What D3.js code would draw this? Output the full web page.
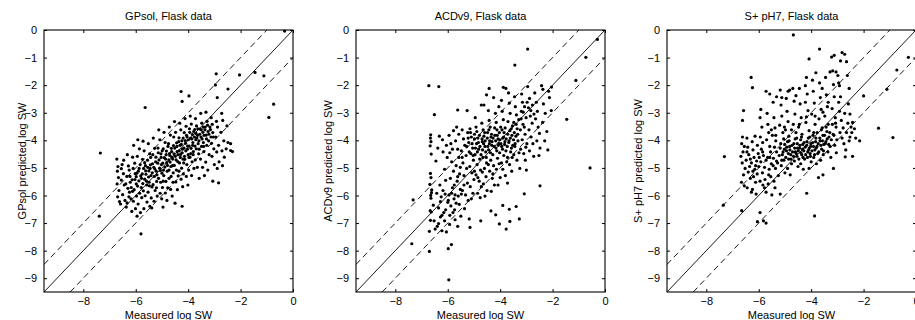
<!DOCTYPE html>
<html>
<head>
<meta charset="utf-8">
<script src="https://cdn.jsdelivr.net/npm/d3@7"></script>
<style>
  body { margin: 0; background: #fff; }
  text { font-family: "Liberation Sans", Arial, Helvetica, sans-serif; fill: #000; }
</style>
</head>
<body>
<svg id="chart" width="915" height="320"></svg>
<script>
const titles = ["GPsol, Flask data", "ACDv9, Flask data", "S+ pH7, Flask data"];
const yLabels = ["GPsol predicted log SW", "ACDv9 predicted log SW", "S+ pH7 predicted log SW"];
const xLabel = "Measured log SW";
const xTicks = [-8, -6, -4, -2, 0];
const yTicks = [0, -1, -2, -3, -4, -5, -6, -7, -8, -9];
const axisDomain = [-9.5, 0];
// y = x, y = x + 1, y = x - 1
const refOffsets = [0, 1, -1];

// [measured, predicted]
const gpsolPoints = [
  [-7.39,-6.75],[-7.35,-4.46],[-5.64,-2.81],[-5.80,-7.39],[-4.23,-6.39],[-5.39,-6.45],[-4.27,-2.23],[-3.97,-2.39],
  [-4.23,-2.59],[-2.93,-1.59],[-2.04,-1.63],[-1.45,-1.54],[-1.11,-1.66],[-0.32,-0.04],[-0.74,-2.69],[-0.92,-3.17],
  [-2.48,-2.14],[-2.96,-1.99],[-2.89,-2.45],[-3.06,-5.48],[-2.84,-5.54],[-2.38,-4.37],
  [-6.72,-4.68],[-6.68,-4.95],[-6.70,-5.12],[-6.66,-5.35],[-6.71,-5.58],[-6.64,-5.82],[-6.69,-6.05],[-6.62,-6.22],[-6.58,-6.31],
  [-6.52,-4.88],[-6.47,-5.21],[-6.55,-5.44],[-6.44,-5.62],[-6.50,-5.97],[-6.41,-6.18],[-6.36,-6.42],[-6.46,-4.72],[-6.55,-5.03],
  [-6.32,-4.52],[-6.28,-4.93],[-6.25,-5.08],[-6.34,-5.31],[-6.21,-5.52],[-6.30,-5.74],[-6.24,-5.88],[-6.18,-6.12],[-6.33,-6.27],[-6.15,-6.58],[-6.26,-6.05],
  [-6.08,-4.18],[-6.12,-4.61],[-6.04,-4.83],[-6.10,-5.02],[-6.02,-5.21],[-6.14,-5.43],[-5.98,-5.58],[-6.06,-5.79],[-5.97,-6.02],[-6.09,-6.21],[-6.01,-6.48],[-5.95,-6.75],
  [-5.92,-3.98],[-5.86,-4.31],[-5.94,-4.58],[-5.83,-4.88],[-5.90,-5.12],[-5.81,-5.29],[-5.88,-5.47],[-5.79,-5.71],[-5.85,-5.92],[-5.77,-6.08],[-5.91,-6.31],[-5.82,-6.62],
  [-5.72,-4.03],[-5.68,-4.38],[-5.74,-4.69],[-5.63,-4.92],[-5.70,-5.02],[-5.61,-5.23],[-5.66,-5.41],[-5.58,-5.62],[-5.71,-5.83],[-5.64,-6.01],[-5.57,-6.24],[-5.69,-6.48],
  [-5.52,-4.12],[-5.47,-4.49],[-5.55,-4.72],[-5.44,-4.89],[-5.50,-5.11],[-5.42,-5.28],[-5.49,-5.52],[-5.38,-5.69],[-5.53,-5.88],[-5.41,-6.09],[-5.46,-6.39],
  [-5.33,-3.92],[-5.28,-4.29],[-5.35,-4.52],[-5.24,-4.78],[-5.31,-4.98],[-5.22,-5.12],[-5.29,-5.31],[-5.20,-5.49],[-5.34,-5.61],[-5.26,-5.82],[-5.18,-6.02],[-5.30,-6.21],
  [-5.12,-3.62],[-5.08,-3.98],[-5.15,-4.28],[-5.04,-4.49],[-5.11,-4.71],[-5.02,-4.88],[-5.09,-5.01],[-5.00,-5.19],[-5.13,-5.38],[-5.05,-5.52],[-4.98,-5.71],[-5.07,-5.92],[-5.01,-6.12],[-4.96,-6.42],
  [-4.92,-3.71],[-4.88,-4.08],[-4.95,-4.31],[-4.84,-4.52],[-4.91,-4.63],[-4.82,-4.81],[-4.89,-4.97],[-4.80,-5.12],[-4.93,-5.28],[-4.85,-5.49],[-4.78,-5.72],[-4.87,-5.91],[-4.81,-6.18],
  [-4.72,-3.52],[-4.68,-3.81],[-4.75,-4.12],[-4.64,-4.29],[-4.71,-4.48],[-4.62,-4.61],[-4.69,-4.79],[-4.60,-4.92],[-4.73,-5.08],[-4.65,-5.31],[-4.58,-5.52],[-4.67,-5.78],[-4.61,-6.02],
  [-4.52,-3.32],[-4.48,-3.71],[-4.55,-3.88],[-4.44,-4.09],[-4.51,-4.28],[-4.42,-4.41],[-4.49,-4.58],[-4.40,-4.77],[-4.53,-4.91],[-4.45,-5.08],[-4.38,-5.29],[-4.47,-5.51],[-4.41,-5.79],[-4.50,-6.28],
  [-4.32,-3.38],[-4.28,-3.62],[-4.35,-3.91],[-4.24,-4.02],[-4.31,-4.18],[-4.22,-4.32],[-4.29,-4.51],[-4.20,-4.68],[-4.33,-4.82],[-4.25,-5.01],[-4.18,-5.22],[-4.27,-5.41],[-4.21,-5.68],
  [-4.12,-3.21],[-4.08,-3.49],[-4.15,-3.72],[-4.04,-3.88],[-4.11,-4.01],[-4.02,-4.21],[-4.09,-4.38],[-4.00,-4.52],[-4.13,-4.69],[-4.05,-4.88],[-3.98,-5.08],[-4.07,-5.31],[-4.01,-5.62],
  [-3.92,-3.12],[-3.88,-3.41],[-3.95,-3.58],[-3.84,-3.79],[-3.91,-3.92],[-3.82,-4.08],[-3.89,-4.29],[-3.80,-4.41],[-3.93,-4.61],[-3.85,-4.78],[-3.78,-5.02],[-3.87,-5.28],
  [-3.72,-3.21],[-3.68,-3.48],[-3.75,-3.61],[-3.64,-3.82],[-3.71,-3.98],[-3.62,-4.12],[-3.69,-4.31],[-3.60,-4.49],[-3.73,-4.71],[-3.65,-4.98],[-3.58,-5.38],
  [-3.52,-3.02],[-3.48,-3.38],[-3.55,-3.59],[-3.44,-3.71],[-3.51,-3.88],[-3.42,-4.08],[-3.49,-4.22],[-3.40,-4.41],[-3.53,-4.68],[-3.45,-4.98],[-3.38,-5.28],
  [-3.32,-2.98],[-3.28,-3.31],[-3.35,-3.52],[-3.24,-3.68],[-3.31,-3.81],[-3.22,-4.02],[-3.29,-4.18],[-3.20,-4.52],[-3.33,-4.79],[-3.25,-5.08],
  [-3.12,-3.18],[-3.08,-3.42],[-3.15,-3.61],[-3.04,-3.88],[-3.11,-4.11],[-3.02,-4.31],[-3.09,-4.58],[-3.00,-4.88],
  [-2.92,-3.31],[-2.88,-3.52],[-2.95,-3.88],[-2.84,-4.18],[-2.91,-4.42],[-2.82,-4.78],[-2.89,-5.02],
  [-2.72,-3.02],[-2.68,-3.28],[-2.75,-3.71],[-2.64,-4.02],[-2.71,-4.38],[-2.62,-4.61],[-2.69,-4.92],
  [-2.52,-3.48],[-2.48,-4.08],[-2.55,-4.31],[-2.38,-4.12],[-2.31,-4.41],
  [-6.38,-5.58],[-6.22,-5.31],[-6.17,-5.71],[-6.03,-5.42],[-5.96,-5.19],[-5.93,-5.66],[-5.87,-5.02],[-5.78,-5.38],[-5.73,-5.57],
  [-5.66,-4.81],[-5.62,-5.11],[-5.59,-5.48],[-5.54,-4.98],[-5.51,-5.33],[-5.45,-5.02],[-5.43,-4.62],[-5.37,-5.18],[-5.36,-4.85],
  [-5.27,-5.04],[-5.23,-4.61],[-5.19,-5.25],[-5.16,-4.83],[-5.14,-4.45],[-5.06,-5.09],[-5.03,-4.62],[-4.99,-4.38],[-4.97,-4.83],
  [-4.94,-5.08],[-4.86,-4.68],[-4.83,-4.39],[-4.79,-4.91],[-4.77,-4.22],[-4.74,-4.71],[-4.70,-4.55],[-4.66,-4.95],[-4.63,-4.41],
  [-4.59,-4.68],[-4.56,-4.19],[-4.54,-4.49],[-4.46,-4.71],[-4.43,-4.22],[-4.39,-4.52],[-4.36,-4.05],[-4.34,-4.38],[-4.30,-4.62],
  [-4.26,-4.15],[-4.23,-4.45],[-4.19,-3.92],[-4.16,-4.28],[-4.14,-4.58],[-4.10,-4.11],[-4.06,-3.82],[-4.03,-4.32],[-3.99,-3.98],
  [-3.96,-4.21],[-3.94,-3.71],[-3.90,-4.48],[-3.86,-3.95],[-3.83,-4.18],[-3.79,-3.68],[-3.76,-3.88],[-3.74,-4.21],[-3.70,-3.75],
  [-3.67,-3.92],[-3.63,-3.58],[-3.59,-4.02],[-3.56,-3.78],[-3.50,-3.62],[-3.47,-3.95],[-3.43,-3.52],[-3.39,-3.82],[-3.36,-3.62],
  [-3.30,-3.95],[-3.26,-3.45],[-3.21,-3.78],[-3.17,-3.52],[-3.13,-3.88],[-3.06,-3.72],[-5.98,-5.32],[-6.12,-5.85],[-5.75,-5.22],
  [-5.48,-5.65],[-5.21,-5.72],[-4.95,-5.48],[-4.73,-5.38],[-4.57,-5.18],[-4.35,-5.12],[-4.17,-4.82],[-3.97,-4.62],[-3.81,-4.52],
  [-3.58,-4.32],[-3.41,-4.22]
];

const acdv9Points = [
  [-0.29,-0.34],[-0.73,-0.99],[-2.95,-0.69],[-3.44,-1.27],[-1.11,-1.83],[-2.04,-2.07],[-6.72,-2.02],[-6.34,-2.05],
  [-6.51,-3.07],[-0.57,-5.00],[-1.46,-3.24],[-2.48,-5.65],[-3.08,-5.94],[-7.37,-7.75],[-7.32,-6.16],[-6.70,-8.03],
  [-5.98,-7.93],[-5.86,-7.78],[-5.96,-9.06],[-4.35,-6.56],[-4.17,-6.70],[-3.90,-6.36],[-3.65,-6.50],[-3.39,-6.40],
  [-3.27,-6.85],[-4.03,-7.03],[-3.77,-7.22],[-3.63,-6.94],[-4.74,-6.92],[-5.15,-7.16],[-5.62,-2.90],[-2.37,-2.15],
  [-6.65,-3.80],[-6.66,-3.92],[-6.64,-4.05],[-6.67,-4.20],[-6.63,-4.50],[-6.66,-5.20],[-6.64,-5.35],[-6.68,-5.60],
  [-6.62,-5.90],[-6.65,-6.00],[-6.67,-6.55],[-6.63,-6.60],[-6.66,-6.90],[-6.70,-7.30],[-6.61,-5.80],[-6.64,-6.10],
  [-6.45,-4.75],[-6.38,-4.28],[-6.30,-5.62],[-6.42,-5.92],[-6.25,-6.05],[-6.35,-6.45],[-6.28,-6.78],[-6.40,-7.12],[-6.22,-7.28],
  [-6.15,-6.62],[-6.10,-5.95],[-6.05,-4.18],[-6.18,-4.42],[-6.02,-4.62],[-6.12,-5.05],[-6.08,-5.45],[-6.00,-6.25],[-6.12,-6.92],
  [-6.05,-7.32],[-6.20,-3.98],[-6.32,-3.85],
  [-5.95,-3.82],[-5.88,-4.12],[-5.92,-4.45],[-5.85,-4.78],[-5.78,-5.12],[-5.90,-5.38],[-5.82,-5.72],[-5.95,-5.98],[-5.76,-6.12],
  [-5.88,-6.38],[-5.80,-6.62],[-5.72,-6.88],[-5.93,-7.05],[-5.66,-3.52],[-5.70,-4.02],[-5.62,-4.32],[-5.58,-4.62],[-5.68,-4.92],
  [-5.55,-5.22],[-5.64,-5.48],[-5.52,-5.78],[-5.60,-6.02],[-5.56,-6.32],[-5.74,-6.52],[-5.50,-6.75],[-5.62,-7.12],[-5.58,-3.78],[-5.78,-3.65],
  [-5.45,-3.62],[-5.40,-3.95],[-5.35,-4.18],[-5.48,-4.38],[-5.30,-4.55],[-5.42,-4.82],[-5.28,-5.02],[-5.38,-5.28],[-5.25,-5.55],
  [-5.44,-5.82],[-5.32,-5.98],[-5.22,-6.18],[-5.36,-6.48],[-5.18,-6.85],[-5.15,-3.58],[-5.10,-3.88],[-5.20,-4.08],[-5.05,-4.28],
  [-5.12,-4.48],[-5.02,-4.72],[-5.16,-4.95],[-5.08,-5.18],[-5.00,-5.42],[-5.14,-5.68],[-5.04,-5.92],[-5.10,-6.12],[-5.24,-3.72],[-5.26,-2.92],
  [-4.95,-3.18],[-4.92,-3.52],[-4.98,-3.78],[-4.85,-3.92],[-4.90,-4.12],[-4.82,-4.32],[-4.96,-4.52],[-4.78,-4.68],[-4.88,-4.88],
  [-4.75,-5.08],[-4.92,-5.25],[-4.80,-5.48],[-4.72,-5.68],[-4.86,-5.92],[-4.76,-6.08],[-4.70,-3.38],[-4.65,-3.62],[-4.62,-3.85],
  [-4.68,-4.05],[-4.58,-4.22],[-4.55,-4.42],[-4.66,-4.62],[-4.52,-4.82],[-4.60,-5.02],[-4.54,-5.32],[-4.64,-5.58],[-4.50,-5.82],
  [-4.58,-6.02],[-4.72,-2.72],[-4.62,-2.72],[-4.52,-2.35],
  [-4.45,-2.92],[-4.42,-3.28],[-4.38,-3.52],[-4.48,-3.72],[-4.35,-3.88],[-4.40,-4.02],[-4.32,-4.18],[-4.44,-4.35],[-4.28,-4.52],
  [-4.36,-4.72],[-4.25,-4.92],[-4.40,-5.12],[-4.30,-5.38],[-4.22,-5.62],[-4.34,-5.85],[-4.18,-3.02],[-4.15,-3.35],[-4.12,-3.62],
  [-4.20,-3.82],[-4.08,-3.95],[-4.05,-4.12],[-4.16,-4.28],[-4.02,-4.45],[-4.10,-4.65],[-4.04,-4.85],[-4.14,-5.05],[-4.00,-5.35],
  [-4.08,-5.62],[-4.42,-2.12],[-4.25,-2.45],[-4.05,-2.78],
  [-3.95,-2.55],[-3.92,-2.95],[-3.88,-3.25],[-3.98,-3.52],[-3.85,-3.72],[-3.90,-3.92],[-3.82,-4.05],[-3.94,-4.22],[-3.78,-4.38],
  [-3.86,-4.55],[-3.75,-4.78],[-3.90,-5.05],[-3.80,-5.28],[-3.72,-5.55],[-3.68,-2.28],[-3.65,-2.65],[-3.62,-3.02],[-3.70,-3.32],
  [-3.58,-3.58],[-3.55,-3.82],[-3.66,-4.02],[-3.52,-4.18],[-3.60,-4.42],[-3.54,-4.62],[-3.64,-4.88],[-3.56,-5.12],[-3.78,-2.12],[-3.88,-2.08],
  [-3.45,-2.42],[-3.42,-2.78],[-3.38,-3.08],[-3.48,-3.35],[-3.35,-3.58],[-3.40,-3.85],[-3.32,-4.02],[-3.44,-4.22],[-3.28,-4.45],
  [-3.36,-4.72],[-3.25,-5.02],[-3.18,-2.32],[-3.15,-2.62],[-3.12,-2.98],[-3.20,-3.22],[-3.08,-3.52],[-3.05,-3.78],[-3.16,-3.98],
  [-3.02,-4.25],[-3.10,-4.48],[-3.04,-4.72],[-3.00,-5.08],
  [-2.95,-2.05],[-2.88,-2.48],[-2.92,-2.82],[-2.85,-3.12],[-2.78,-3.38],[-2.90,-3.62],[-2.82,-3.88],[-2.75,-4.12],[-2.88,-4.38],
  [-2.72,-4.58],[-2.68,-2.28],[-2.62,-2.62],[-2.58,-2.95],[-2.65,-3.22],[-2.55,-3.52],[-2.50,-3.75],[-2.60,-4.02],[-2.48,-4.28],
  [-2.52,-4.55],[-2.42,-2.02],[-2.35,-2.68],[-2.28,-3.02],[-2.38,-3.35],[-2.22,-3.68],[-2.30,-4.02],[-2.18,-4.35],[-2.12,-2.45],
  [-2.05,-2.92],[-2.15,-2.22],
  [-5.28,-4.22],[-5.22,-3.92],[-5.18,-4.42],[-5.13,-3.72],[-5.07,-4.12],[-5.03,-4.55],[-4.98,-3.95],[-4.94,-4.28],[-4.89,-3.68],
  [-4.87,-4.42],[-4.83,-4.08],[-4.79,-3.82],[-4.77,-4.22],[-4.73,-4.52],[-4.69,-3.95],[-4.67,-4.35],[-4.63,-4.12],[-4.59,-3.72],
  [-4.57,-4.02],[-4.53,-4.62],[-4.49,-3.92],[-4.47,-4.22],[-4.43,-3.62],[-4.41,-4.12],[-4.37,-4.45],[-4.33,-3.78],[-4.31,-4.05],
  [-4.27,-3.92],[-4.23,-4.22],[-4.21,-3.55],[-4.17,-4.02],[-4.13,-4.38],[-4.11,-3.82],[-4.07,-4.18],[-4.03,-3.72],[-4.01,-3.98],
  [-3.97,-4.12],[-3.93,-3.62],[-3.91,-4.32],[-3.87,-3.88],[-3.83,-4.15],[-3.81,-3.55],[-3.77,-3.95],[-3.73,-4.22],[-3.71,-3.78],
  [-3.67,-4.08],[-3.63,-3.65],[-3.61,-3.92],[-3.57,-4.28],[-3.53,-3.48],[-3.49,-3.98],[-3.46,-3.72],[-3.43,-4.12],[-3.39,-3.42],
  [-3.33,-3.78],[-3.29,-3.25],[-3.23,-3.62],[-3.19,-2.95],[-3.13,-3.42],[-3.07,-2.78],[-3.01,-3.18],[-2.97,-2.62],[-2.83,-2.92],
  [-2.77,-2.72],[-2.71,-3.05],[-5.45,-4.62],[-5.52,-4.98],[-5.62,-5.32],[-5.75,-5.62],[-5.85,-5.92],[-5.98,-6.18],[-6.08,-6.52],
  [-6.22,-6.72],[-6.35,-7.02],[-6.48,-7.22],[-6.18,-5.82],[-5.92,-6.72],[-5.68,-6.28],[-5.48,-5.95],[-5.38,-5.62],[-4.98,-5.12],
  [-4.85,-5.35],[-4.68,-5.15],[-4.45,-4.88],[-4.28,-5.22],[-3.95,-4.82],[-3.72,-4.62],[-3.48,-4.52],[-3.22,-4.32],[-2.98,-4.12],
  [-6.55,-6.35],[-6.52,-6.92],[-6.28,-6.22],[-5.72,-5.98],[-5.82,-4.32]
];

const splusPoints = [
  [-4.68,-0.18],[-3.68,-0.69],[-4.08,-1.05],[-6.29,-1.72],[-6.24,-2.09],[-7.31,-4.59],[-7.35,-6.35],[-6.65,-6.55],
  [-5.95,-6.62],[-6.05,-6.95],[-5.82,-6.92],[-5.72,-7.00],[-3.87,-6.74],[-4.17,-5.92],[-1.43,-3.56],[-0.88,-3.90],
  [-2.00,-2.39],[-0.29,-0.99],[-0.73,-1.45],[-1.11,-2.15],[-3.15,-5.02],[-3.55,-5.25],[-2.70,-4.60],[-2.15,-4.02],
  [-5.18,-5.95],[-5.38,-5.72],
  [-6.62,-3.88],[-6.65,-4.12],[-6.60,-4.42],[-6.68,-4.58],[-6.63,-4.82],[-6.58,-5.25],[-6.66,-5.52],[-6.55,-5.65],
  [-6.58,-2.92],[-6.62,-3.28],[-6.52,-5.02],
  [-6.45,-3.92],[-6.42,-4.25],[-6.38,-4.52],[-6.48,-4.72],[-6.35,-4.95],[-6.40,-5.15],[-6.32,-5.38],[-6.44,-5.72],[-6.28,-5.88],
  [-6.25,-4.05],[-6.22,-4.35],[-6.18,-4.62],[-6.28,-4.82],[-6.15,-5.05],[-6.20,-5.32],[-6.12,-5.52],[-6.24,-5.78],[-6.10,-5.95],
  [-6.05,-4.18],[-6.02,-4.48],[-6.08,-4.75],[-6.00,-4.95],[-6.06,-5.22],[-6.14,-3.85],
  [-5.95,-3.18],[-5.92,-2.88],[-5.88,-3.52],[-5.94,-3.88],[-5.85,-4.08],[-5.90,-4.32],[-5.82,-4.55],[-5.92,-4.78],[-5.78,-4.98],
  [-5.86,-5.18],[-5.76,-5.42],[-5.84,-5.62],[-5.72,-5.88],[-5.68,-3.02],[-5.65,-3.42],[-5.62,-3.72],[-5.70,-3.98],[-5.58,-4.22],
  [-5.55,-4.42],[-5.66,-4.62],[-5.52,-4.85],[-5.60,-5.05],[-5.54,-5.32],[-5.64,-5.58],[-5.50,-5.98],[-5.72,-2.22],[-5.58,-2.32],
  [-5.45,-2.62],[-5.42,-3.18],[-5.38,-3.55],[-5.48,-3.82],[-5.35,-4.02],[-5.40,-4.25],[-5.32,-4.42],[-5.44,-4.65],[-5.28,-4.82],
  [-5.36,-5.02],[-5.25,-5.28],[-5.42,-5.48],[-5.18,-2.18],[-5.15,-2.72],[-5.12,-3.12],[-5.20,-3.45],[-5.08,-3.72],[-5.05,-3.95],
  [-5.16,-4.12],[-5.02,-4.32],[-5.10,-4.52],[-5.04,-4.72],[-5.14,-4.92],[-5.00,-5.18],[-5.32,-2.42],
  [-4.95,-2.48],[-4.92,-2.95],[-4.88,-3.32],[-4.98,-3.62],[-4.85,-3.85],[-4.90,-4.05],[-4.82,-4.22],[-4.94,-4.38],[-4.78,-4.52],
  [-4.86,-4.68],[-4.75,-4.85],[-4.90,-5.02],[-4.80,-5.25],[-4.70,-2.12],[-4.65,-2.58],[-4.62,-3.05],[-4.68,-3.42],[-4.58,-3.72],
  [-4.55,-3.92],[-4.66,-4.12],[-4.52,-4.28],[-4.60,-4.42],[-4.54,-4.58],[-4.64,-4.75],[-4.50,-4.95],[-4.58,-2.38],[-4.82,-2.18],
  [-4.45,-2.12],[-4.42,-2.68],[-4.38,-3.18],[-4.48,-3.52],[-4.35,-3.78],[-4.40,-3.98],[-4.32,-4.15],[-4.44,-4.28],[-4.28,-4.38],
  [-4.36,-4.52],[-4.25,-4.68],[-4.40,-4.85],[-4.30,-5.05],[-4.18,-1.72],[-4.15,-2.32],[-4.12,-2.92],[-4.20,-3.35],[-4.08,-3.65],
  [-4.05,-3.88],[-4.16,-4.05],[-4.02,-4.22],[-4.10,-4.35],[-4.04,-4.48],[-4.14,-4.62],[-4.00,-4.78],[-4.08,-5.02],[-4.22,-2.02],
  [-3.95,-1.82],[-3.92,-2.22],[-3.88,-2.65],[-3.98,-3.05],[-3.85,-3.42],[-3.90,-3.72],[-3.82,-3.92],[-3.94,-4.08],[-3.78,-4.22],
  [-3.86,-4.35],[-3.75,-4.48],[-3.90,-4.62],[-3.80,-4.85],[-3.68,-1.92],[-3.65,-2.45],[-3.62,-2.88],[-3.70,-3.22],[-3.58,-3.55],
  [-3.55,-3.82],[-3.66,-4.02],[-3.52,-4.15],[-3.60,-4.32],[-3.54,-4.52],[-3.64,-4.72],[-3.72,-5.35],[-3.82,-1.55],
  [-3.45,-1.72],[-3.42,-2.35],[-3.38,-2.78],[-3.48,-3.12],[-3.35,-3.42],[-3.40,-3.68],[-3.32,-3.88],[-3.44,-4.05],[-3.28,-4.22],
  [-3.36,-4.42],[-3.25,-4.62],[-3.18,-1.48],[-3.15,-1.98],[-3.12,-2.42],[-3.20,-2.85],[-3.08,-3.18],[-3.05,-3.52],[-3.16,-3.78],
  [-3.02,-3.98],[-3.10,-4.18],[-3.04,-4.45],[-3.22,-0.98],[-3.12,-0.92],[-3.28,-1.52],[-3.05,-1.52],
  [-2.95,-1.92],[-2.88,-2.42],[-2.92,-2.95],[-2.85,-3.28],[-2.78,-3.55],[-2.90,-3.72],[-2.82,-3.92],[-2.75,-4.12],[-2.68,-4.35],
  [-2.82,-0.82],[-2.72,-0.88],[-2.65,-1.15],[-2.88,-1.12],[-2.62,-1.65],[-2.55,-2.12],[-2.58,-2.68],[-2.52,-3.05],[-2.60,-3.38],
  [-2.48,-3.52],[-2.45,-3.72],[-2.55,-4.02],[-2.42,-4.58],[-2.35,-3.58],[-2.30,-3.92],[-2.92,-2.02],[-2.98,-1.65],
  [-5.22,-4.55],[-5.18,-4.28],[-5.12,-4.72],[-5.07,-4.42],[-5.01,-4.15],[-4.97,-4.62],[-4.93,-4.25],[-4.87,-4.48],[-4.84,-4.02],
  [-4.81,-4.35],[-4.77,-4.68],[-4.73,-4.18],[-4.71,-4.42],[-4.67,-4.58],[-4.63,-4.28],[-4.61,-3.95],[-4.57,-4.48],[-4.53,-4.12],
  [-4.49,-4.38],[-4.47,-4.68],[-4.43,-4.18],[-4.39,-4.45],[-4.37,-3.88],[-4.33,-4.32],[-4.31,-4.62],[-4.27,-4.08],[-4.23,-4.25],
  [-4.21,-4.52],[-4.17,-4.18],[-4.13,-4.42],[-4.11,-3.92],[-4.07,-4.28],[-4.03,-4.58],[-4.01,-4.12],[-3.97,-4.38],[-3.93,-3.82],
  [-3.91,-4.22],[-3.87,-4.52],[-3.83,-4.05],[-3.81,-4.28],[-3.77,-3.72],[-3.73,-4.12],[-3.71,-4.42],[-3.67,-3.92],[-3.63,-4.18],
  [-3.61,-3.62],[-3.57,-4.02],[-3.53,-4.38],[-3.49,-3.82],[-3.46,-4.12],[-3.43,-3.52],[-3.39,-3.95],[-3.33,-4.15],[-3.29,-3.72],
  [-3.23,-3.98],[-3.19,-3.42],[-3.13,-3.82],[-3.07,-3.38],[-5.32,-4.75],[-5.45,-4.92],[-5.58,-4.62],[-5.72,-4.72],[-5.85,-4.42],
  [-5.98,-4.62],[-6.12,-4.92],[-6.32,-4.68],[-6.45,-4.42],[-6.55,-4.22],[-5.62,-5.25],[-5.78,-5.72],[-5.95,-5.48],[-6.22,-5.12],
  [-5.35,-3.82],[-5.52,-3.62],[-5.02,-3.52],[-4.75,-3.62],[-4.45,-3.42],[-4.18,-3.15],[-3.85,-3.12],[-3.55,-2.98],[-3.35,-2.62],
  [-2.95,-2.62],[-2.72,-3.02],[-2.65,-3.72],[-2.42,-3.35],[-2.52,-3.88],[-4.88,-2.22],[-4.22,-2.62],[-3.58,-2.12],[-5.12,-2.45]
];

const seriesPoints = [gpsolPoints, acdv9Points, splusPoints];

const panelLefts = [44, 356, 667];
const plotW = 249, plotTop = 30, plotH = 262;
const yLabelX = [26, 332, 642];

const svg = d3.select("#chart");
svg.append("rect").attr("width", 915).attr("height", 320).attr("fill", "#fff");

titles.forEach((title, i) => {
  const g = svg.append("g").attr("transform", `translate(${panelLefts[i]},${plotTop})`);

  const x = d3.scaleLinear().domain(axisDomain).range([0, plotW]);
  const y = d3.scaleLinear().domain(axisDomain).range([plotH, 0]);

  // reference lines y = x + k
  refOffsets.forEach(k => {
    const x0 = Math.max(axisDomain[0], axisDomain[0] - k);
    const x1 = Math.min(axisDomain[1], axisDomain[1] - k);
    g.append("line")
      .attr("x1", x(x0)).attr("y1", y(x0 + k))
      .attr("x2", x(x1)).attr("y2", y(x1 + k))
      .attr("stroke", "#000")
      .attr("stroke-width", 0.9)
      .attr("stroke-dasharray", k === 0 ? null : "6,4");
  });

  g.selectAll(".dot")
    .data(seriesPoints[i])
    .enter().append("circle")
    .attr("class", "dot")
    .attr("cx", d => x(d[0]))
    .attr("cy", d => y(d[1]))
    .attr("r", 1.6)
    .attr("fill", "#000");

  // box axes, ticks inside
  const bottom = g.append("g").attr("transform", `translate(0,${plotH})`)
    .call(d3.axisBottom(x).tickValues(xTicks).tickSize(-3).tickPadding(5));
  const top = g.append("g")
    .call(d3.axisTop(x).tickValues(xTicks).tickSize(-3).tickFormat(""));
  const left = g.append("g")
    .call(d3.axisLeft(y).tickValues(yTicks).tickSize(-3).tickPadding(7));
  const right = g.append("g").attr("transform", `translate(${plotW},0)`)
    .call(d3.axisRight(y).tickValues(yTicks).tickSize(-3).tickFormat(""));

  [bottom, top, left, right].forEach(a => {
    a.select(".domain").remove();
    a.selectAll("line").attr("stroke", "#000");
    a.selectAll("text")
      .style("font-size", "11px")
      .style("font-family", "'Liberation Sans', Arial, sans-serif");
  });

  g.append("rect")
    .attr("width", plotW).attr("height", plotH)
    .attr("fill", "none").attr("stroke", "#000").attr("stroke-width", 1.1);

  g.append("text")
    .attr("x", plotW / 2).attr("y", -10)
    .attr("text-anchor", "middle")
    .style("font-size", "11px")
    .text(title);

  g.append("text")
    .attr("x", plotW / 2).attr("y", plotH + 27)
    .attr("text-anchor", "middle")
    .style("font-size", "11px")
    .text(xLabel);

  svg.append("text")
    .attr("transform", `translate(${yLabelX[i]},${plotTop + plotH / 2}) rotate(-90)`)
    .attr("text-anchor", "middle")
    .style("font-size", "11px")
    .text(yLabels[i]);
});
</script>
</body>
</html>
